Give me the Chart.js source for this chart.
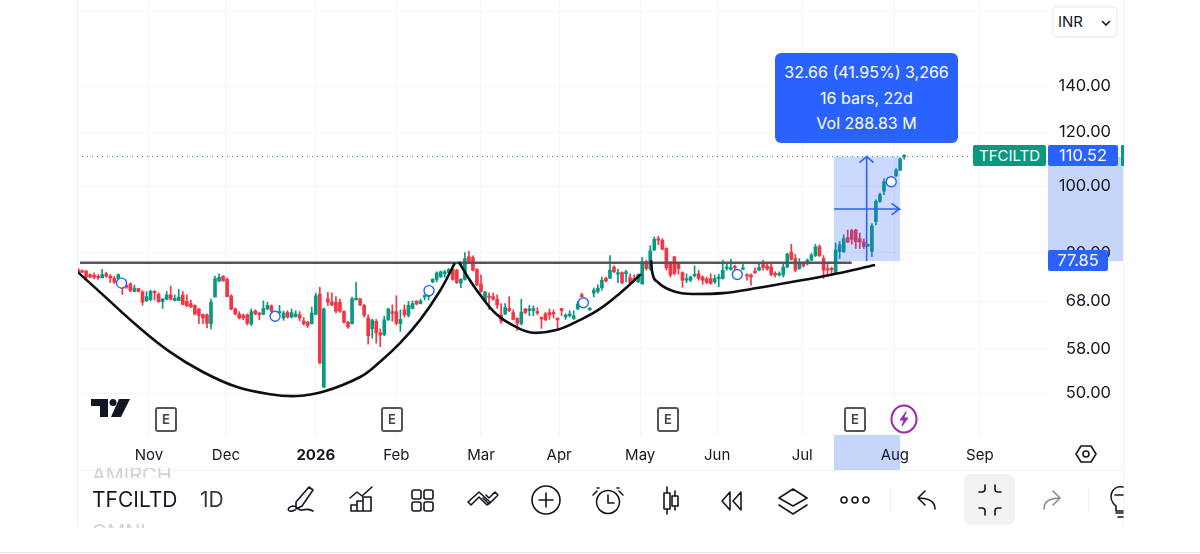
<!DOCTYPE html>
<html>
<head>
<meta charset="utf-8">
<title>TFCILTD 1D</title>
<script src="https://cdn.jsdelivr.net/npm/chart.js@4/dist/chart.umd.min.js"></script>
<style>
  html, body { margin: 0; padding: 0; background: #fff; width: 1200px; height: 554px; overflow: hidden; font-family: Inter, sans-serif; color: #131722; }
  canvas, svg.chrome { position: absolute; left: 0; top: 0; }
  .abs { position: absolute; white-space: nowrap; }
  .tag { color: #fff; font-size: 15px; line-height: 21px; height: 21px; text-align: center; border-radius: 2px; }
  .price { font-size: 16.5px; }
  .e { width: 22px; height: 25px; border: 2px solid #555; border-radius: 3px; box-sizing: border-box; top: 407px; background: #fff;
       font-size: 13px; font-weight: 600; line-height: 21px; text-align: center; color: #444; }
  .info { left: 775px; top: 53px; width: 183px; height: 90px; background: #2962ff; border-radius: 6px; color: #fff; font-size: 16px; line-height: 25.5px; text-align: center; padding-top: 7px; box-sizing: border-box; }
</style>
</head>
<body>
<canvas id="chart" width="1200" height="554"></canvas>

<svg class="chrome" width="1200" height="554" fill="none" stroke="#131722" stroke-width="1.6" stroke-linecap="round" stroke-linejoin="round">
  <line x1="77.5" y1="0" x2="77.5" y2="527" stroke="#f0f2f6" stroke-width="1"/>
  <line x1="1123.5" y1="0" x2="1123.5" y2="527" stroke="#f0f2f6" stroke-width="1"/>
  <line x1="77" y1="470.5" x2="1123" y2="470.5" stroke="#f0f2f6" stroke-width="1"/>
  <line x1="0" y1="552.5" x2="1200" y2="552.5" stroke="#e4e6ea" stroke-width="1"/>
  <line x1="890.5" y1="488" x2="890.5" y2="513" stroke="#f2f2f2" stroke-width="1"/>
  <line x1="1088.5" y1="488" x2="1088.5" y2="513" stroke="#f2f2f2" stroke-width="1"/>
  <!-- logo -->
  <g fill="#131722" stroke="none">
    <path d="M91 399h17v18h-8v-11h-9z"/><circle cx="113" cy="402.5" r="3.5"/><path d="M119 399h11l-9 18h-10z"/>
  </g>
  <!-- lightning marker -->
  <ellipse cx="904" cy="419" rx="12.5" ry="13.5" stroke="#9c27b0" stroke-width="2"/>
  <path d="M906 412l-6 8h4l-2 6 6-8h-4z" fill="#9c27b0" stroke="#9c27b0" stroke-width="1"/>
  <!-- settings hexagon -->
  <path d="M1081 446h10l5 8-5 8h-10l-5-8z"/><circle cx="1086" cy="454" r="3"/>
  <!-- toolbar icons -->
  <path d="M309 487l4 3-11 16-6 3 0-7zM295 510c-8 4-9-3-2-4 5 0 5 5 9 4 4-1 8-1 11 1"/>
  <path d="M351 505h6v6h-6zM357 501h6v10h-6zM363 497h8v14h-8zM350 498l7-6 5 4 10-9"/>
  <rect x="412" y="490" width="9" height="9" rx="2"/><rect x="424" y="490" width="9" height="9" rx="2"/>
  <rect x="412" y="502" width="9" height="9" rx="2"/><rect x="424" y="502" width="9" height="9" rx="2"/>
  <path d="M471 505l8-8 8 8 3-3-11-10-11 10zM483 498l6 6 9-9-3-3-6 6-3-3"/>
  <circle cx="546" cy="500" r="14"/><path d="M546 493v14M539 500h14"/>
  <circle cx="608" cy="502" r="11.5"/><path d="M608 495v8h6M597 491l-4 4M619 491l4 4M599 488h-2M617 488h2"/>
  <path d="M667 487v27M675 491v19"/><rect x="664" y="493" width="6" height="16" fill="#fff"/><rect x="672" y="496" width="6" height="10" fill="#fff"/>
  <path d="M730 492l-8 9 8 9zM741 492l-8 9 8 9z"/>
  <path d="M793 489l14 9-14 8-14-8zM779 505l14 9 14-9"/>
  <circle cx="844" cy="500" r="3"/><circle cx="855" cy="500" r="3"/><circle cx="866" cy="500" r="3"/>
  <path d="M935 509c0-7-5-11-17-11M925 491l-7 7 7 7"/>
  <rect x="964" y="474" width="51" height="51" rx="8" fill="#f2f2f2" stroke="none"/>
  <path d="M979 492h3a3 3 0 0 0 3-3v-4M1001 492h-3a3 3 0 0 1-3-3v-4M979 508h3a3 3 0 0 1 3 3v4M1001 508h-3a3 3 0 0 0-3 3v4"/>
  <path d="M1044 509c0-7 5-11 16-11M1053 491l7 7-7 7" stroke="#8a8a8a"/>
  <path d="M1123 487c-12-2-16 12-7 19v5h7M1116 513h7M1118 517h5M1115 495h8"/>
</svg>

<div class="abs" style="left:92px;top:468px;width:85px;height:10px;overflow:hidden;font-size:20px;line-height:24px;color:#d0d2d6;"><span style="position:relative;top:-5px;">AMIRCH</span></div>
<div class="abs" style="left:92px;top:487px;width:85px;font-size:21px;line-height:26px;overflow:hidden;-webkit-mask-image:linear-gradient(90deg,#000 82%,#bbb 100%);">TFCILTD</div>
<div class="abs" style="left:200px;top:487px;font-size:21px;line-height:26px;color:#333;">1D</div>
<div class="abs" style="left:92px;top:522px;width:85px;height:6px;overflow:hidden;font-size:20px;line-height:24px;color:#d0d2d6;"><span style="position:relative;top:-2px;">OMNI</span></div>

<div class="abs e" style="left:155px;">E</div>
<div class="abs e" style="left:381px;">E</div>
<div class="abs e" style="left:657px;">E</div>
<div class="abs e" style="left:844px;">E</div>

<div class="abs" style="left:1052px;top:6px;width:66px;height:32px;box-sizing:border-box;border:2px solid #f0f2f6;border-radius:5px;background:#fff;font-size:15px;line-height:28px;padding-left:4px;">INR<svg width="10" height="6" style="position:absolute;left:47px;top:12px;" fill="none" stroke="#131722" stroke-width="1.6"><path d="M1 1l4 4 4-4"/></svg></div>

<div class="abs info">
  <div>32.66 (41.95%) 3,266</div>
  <div>16 bars, 22d</div>
  <div>Vol 288.83 M</div>
</div>

<div class="abs tag" style="left:973px;top:145px;width:73px;background:#089981;">TFCILTD</div>
<div class="abs tag price" style="left:1048px;top:145px;width:70px;background:#2962ff;">110.52</div>
<div class="abs tag" style="left:1121px;top:145px;width:3px;background:#089981;border-radius:1px 0 0 1px;"></div>
<div class="abs tag price" style="left:1048px;top:250px;width:60px;background:#2962ff;">77.85</div>

<script>
// daily candles
const opens = [
  75.7,75.3,75.3,74.4,74.2,74.0,73.6,74.6,74.0,73.5,
  73.4,71.2,71.8,72.1,70.3,71.0,70.2,68.1,68.4,70.3,
  69.6,67.9,68.5,69.5,68.2,68.2,69.5,68.0,67.5,67.1,
  66.3,65.0,65.0,63.1,69.0,72.8,74.0,73.2,69.3,66.3,
  65.2,64.9,65.0,63.0,65.9,65.4,65.1,66.3,67.0,65.4,
  65.4,64.3,65.5,64.5,64.6,65.0,63.7,63.4,63.1,65.1,
  69.7,51.0,68.6,67.8,67.8,67.8,65.8,63.4,63.1,68.4,
  68.6,67.1,64.3,62.0,63.6,61.2,60.8,63.9,65.7,65.7,
  63.1,66.1,64.9,66.4,68.1,67.5,69.0,69.1,72.6,73.2,
  73.8,74.6,74.9,75.7,75.5,72.3,73.2,79.0,78.8,75.7,
  72.1,68.1,69.1,69.1,68.5,65.0,65.2,66.4,65.5,64.3,
  63.1,66.3,65.9,65.9,65.7,64.5,65.2,65.5,65.5,64.3,
  66.4,64.5,64.8,64.2,66.3,69.5,67.6,66.1,69.9,70.3,
  71.2,73.5,73.5,76.3,74.5,74.9,74.6,73.6,73.4,72.6,
  72.1,77.7,75.8,80.8,83.9,83.5,81.2,77.5,79.0,77.2,
  74.9,73.0,73.0,74.1,74.6,73.8,73.3,73.4,72.6,73.4,
  73.4,75.9,75.7,76.5,74.8,75.7,74.3,74.3,75.2,75.5,
  77.5,76.6,76.3,74.6,74.3,74.3,76.3,80.2,78.5,75.9,
  77.5,77.1,78.1,79.3,81.7,78.5,75.9,75.9,74.9,80.4,
  80.4,84.2,86.2,86.4,83.9,83.0,81.9,80.4,88.9,95.1,
  98.4,101.7,101.3,103.6,105.6,110.4
];
const highs = [
  75.9,75.6,75.4,74.6,74.8,74.4,75.7,75.0,74.4,74.0,
  74.6,72.0,72.3,72.4,71.8,71.1,70.5,70.3,70.6,70.5,
  70.0,68.6,70.3,71.6,69.5,70.8,70.3,69.5,68.3,67.2,
  66.4,65.2,65.2,68.5,74.0,74.6,74.1,73.6,69.5,66.5,
  65.7,65.2,65.2,66.3,66.1,65.5,68.1,67.8,67.2,65.8,
  67.1,65.8,65.9,66.3,65.9,65.7,64.4,63.6,66.7,69.9,
  71.3,66.5,70.1,70.0,69.1,68.5,65.9,63.6,69.0,72.5,
  68.7,67.3,65.0,64.0,64.0,62.0,64.7,66.4,67.2,69.3,
  66.1,67.2,68.0,68.1,68.1,68.5,69.5,69.5,73.4,75.1,
  75.3,75.5,75.9,75.8,75.7,73.4,80.1,80.4,79.2,75.9,
  74.3,70.3,70.0,69.9,69.5,67.5,67.5,69.1,66.1,64.3,
  68.5,66.4,67.1,67.0,66.6,64.5,65.6,66.3,66.1,64.3,
  66.4,65.2,65.9,65.9,68.0,69.9,68.0,66.6,71.1,71.9,
  73.8,73.8,79.3,76.6,75.7,75.1,75.5,74.6,74.3,74.6,
  78.8,78.1,82.0,84.4,84.6,83.9,81.4,77.7,79.0,77.4,
  75.1,74.6,74.0,76.6,75.5,74.1,73.8,74.6,74.3,74.5,
  78.1,77.4,78.3,76.8,75.2,77.0,74.6,74.6,76.1,77.0,
  78.1,77.5,77.0,75.1,75.1,77.2,79.9,82.4,79.6,78.5,
  77.7,78.4,79.9,82.4,82.2,79.3,77.2,76.3,82.7,83.1,
  85.0,86.4,86.6,86.6,85.5,83.9,82.4,88.2,95.6,97.8,
  102.6,103.0,102.6,106.2,110.1,111.3
];
const lows = [
  74.7,74.9,73.0,73.6,73.3,73.2,73.6,73.7,72.4,72.2,
  73.3,69.6,71.0,70.2,70.2,70.2,67.1,68.0,68.1,68.3,
  67.8,66.4,68.3,68.3,68.1,68.2,67.2,66.8,66.6,65.0,
  63.1,63.1,62.2,62.0,69.0,72.6,72.8,69.1,66.1,65.0,
  64.1,63.9,62.8,62.7,65.0,63.9,65.0,66.1,65.6,64.6,
  65.4,63.8,64.3,64.3,64.5,63.7,62.8,62.3,63.0,65.0,
  55.2,50.9,67.0,67.0,65.4,65.5,63.2,62.1,63.0,68.3,
  67.0,64.5,58.9,60.1,59.1,58.4,60.6,63.8,63.6,62.8,
  61.5,64.5,64.5,66.3,67.2,67.4,68.3,68.3,72.4,72.6,
  73.7,73.7,74.7,73.0,72.2,71.2,73.0,77.3,75.3,71.6,
  70.1,67.9,66.2,68.3,66.4,63.2,65.0,65.7,63.9,61.7,
  62.8,65.2,64.8,64.8,65.0,62.1,63.7,64.0,64.3,62.2,
  64.8,64.0,64.5,64.0,66.1,69.0,67.2,66.0,69.0,69.9,
  70.6,72.6,73.4,74.9,72.4,72.1,72.6,72.2,72.6,72.4,
  72.0,75.5,75.5,80.6,82.2,80.8,75.5,73.8,74.3,74.5,
  71.3,72.4,72.6,73.8,73.0,72.0,72.2,72.0,72.2,71.4,
  73.3,75.5,75.5,75.5,74.0,75.6,73.0,71.8,74.6,75.3,
  75.5,75.5,74.1,73.8,74.0,73.8,76.1,78.1,75.1,75.7,
  76.3,76.8,77.9,79.0,79.0,73.4,74.6,74.6,74.6,78.5,
  80.1,82.8,82.4,81.2,81.2,81.2,81.7,79.0,87.9,94.8,
  97.3,101.3,100.6,103.4,105.4,109.6
];
const closes = [
  75.1,75.0,73.7,73.8,73.7,73.6,74.4,74.0,73.6,72.5,
  74.4,71.0,71.3,70.5,71.1,70.3,67.8,69.1,70.3,70.0,
  67.9,68.6,69.5,68.5,68.7,69.0,67.3,67.0,66.8,65.2,
  64.8,64.3,63.2,67.8,73.4,73.7,72.8,69.1,66.3,65.2,
  64.3,64.3,63.2,65.7,65.2,65.0,66.4,67.1,65.8,65.0,
  65.7,65.4,64.5,65.5,65.2,64.3,63.1,62.7,65.4,69.3,
  55.3,66.3,67.8,67.2,65.8,65.8,63.4,62.4,68.6,68.6,
  67.2,64.9,60.6,63.9,61.2,60.7,63.9,66.3,65.3,63.2,
  64.0,65.0,67.1,67.5,67.4,68.1,69.3,69.3,73.2,74.8,
  75.1,75.1,75.7,73.2,72.4,73.2,78.5,77.4,75.5,71.9,
  70.3,70.2,68.9,68.5,67.2,63.6,66.6,65.9,64.0,63.2,
  65.6,65.5,66.3,66.4,65.4,64.1,63.9,65.0,65.2,63.9,
  65.9,65.0,65.2,64.8,67.4,69.1,67.9,66.4,70.6,71.1,
  73.0,72.8,75.5,75.1,74.7,72.4,75.1,72.4,73.0,74.3,
  77.7,75.9,80.6,83.8,83.5,81.0,76.1,74.3,74.7,75.9,
  73.0,73.4,73.8,74.4,73.4,73.0,72.4,72.2,73.4,73.8,
  75.5,76.3,76.1,76.1,74.3,76.1,74.0,73.8,74.9,76.2,
  76.2,75.8,74.4,74.3,74.4,76.3,79.7,78.3,75.5,77.5,
  76.6,78.1,79.4,81.7,79.3,75.5,75.5,75.6,80.8,82.2,
  83.9,83.0,83.7,83.0,83.0,81.7,82.3,87.6,95.1,97.3,
  101.6,102.6,102.0,105.6,109.7,110.52
];

// axes
const monthTicks = [17.6, 36.7, 59, 79, 100, 119.4, 139.5, 158.6, 179.7, 202.7, 223.8];
const monthLabels = ['Nov', 'Dec', '2026', 'Feb', 'Mar', 'Apr', 'May', 'Jun', 'Jul', 'Aug', 'Sep'];
const priceTicks = [180, 140, 120, 100, 80, 68, 58, 50];

// measure tool and price line
const lastPrice = 110.52;
const rangeLow = 77.85;
const rangeStart = 187.6;
const rangeEnd = 204;

// hand drawn cup and handle
const resistanceLevel = 77.4;
const cupLeft = [[-0.25,75.2],[6.2,69.5],[14.6,62.7],[22.8,57.4],[31,53.65],[39.5,51.0],[47.6,49.8],[54.3,49.5],[60.8,50.2],[70,52.76],[74.9,55.5],[79.9,59.1],[84.9,63.9],[89.8,70.4],[93.5,77.3]];
const cupRight = [[94.5,77.6],[96.8,73.7],[99.8,69.5],[104,65.0],[108.9,62.3],[112.9,61.2],[118.9,61.8],[124.6,63.9],[129.5,66.3],[134.5,69.9],[139.7,74.5]];
const handle = [[142.2,78.1],[142.4,75.5],[143.9,72.5],[147.6,70.4],[152.6,69.7],[160,69.9],[168.5,71.1],[176.7,72.5],[186.6,74.3],[197.8,76.8]];
const arrowUp = [[195.7,77.85],[195.7,110.52],[193.9,108.3],[195.7,110.52],[197.4,108.3]];
const arrowRight = [[187.6,92.7],[203.8,92.7],[201.9,94.5],[203.8,92.7],[201.9,90.9]];
const dividendMarks = [[10.8,72.3],[48.9,64.7],[87.1,70.5],[125.4,67.7],[163.6,74.4],[201.8,101.6]];

const UP = '#089981';
const DOWN = '#f23645';
const BLUE = '#2962ff';
const GRID = '#f3f5f9';
const barColors = closes.map((c, i) => (c >= opens[i] ? UP : DOWN));
const toPoints = pairs => pairs.map(p => ({ x: p[0], y: p[1] }));

function curve(pairs, smooth) {
  return { type: 'line', data: toPoints(pairs), borderColor: '#0e0f14', borderWidth: 2.6, pointRadius: 0, ...smooth, order: 2 };
}

const rangeOverlay = {
  id: 'rangeOverlay',
  beforeDraw(chart) {
    // strips on the two axes sit under the tick labels
    const { ctx, scales: { x, y }, chartArea } = chart;
    ctx.save();
    ctx.fillStyle = '#c6d6fb';
    ctx.fillRect(chartArea.right, y.getPixelForValue(lastPrice), 75, y.getPixelForValue(rangeLow) - y.getPixelForValue(lastPrice));
    ctx.fillRect(x.getPixelForValue(rangeStart), chartArea.bottom, x.getPixelForValue(rangeEnd) - x.getPixelForValue(rangeStart), 35);
    ctx.restore();
  },
  beforeDatasetDraw(chart, args) {
    if (chart.data.datasets[args.index].label !== 'arrowUp') return;
    const { ctx, scales: { x, y } } = chart;
    ctx.save();
    ctx.fillStyle = 'rgba(41, 98, 255, 0.24)';
    ctx.fillRect(x.getPixelForValue(rangeStart), y.getPixelForValue(lastPrice),
      x.getPixelForValue(rangeEnd) - x.getPixelForValue(rangeStart), y.getPixelForValue(rangeLow) - y.getPixelForValue(lastPrice));
    ctx.restore();
  }
};

new Chart(document.getElementById('chart'), {
  type: 'bar',
  data: {
    datasets: [
      { label: 'wick', data: opens.map((_, i) => ({ x: i, y: [lows[i], highs[i]] })), backgroundColor: barColors, barThickness: 1, grouped: false, order: 7 },
      { label: 'body', data: opens.map((o, i) => ({ x: i, y: [Math.min(o, closes[i]), Math.max(o, closes[i])] })), backgroundColor: barColors, barThickness: 3, grouped: false, minBarLength: 1.5, order: 6 },
      { label: 'arrowUp', type: 'line', data: toPoints(arrowUp), borderColor: BLUE, borderWidth: 1.6, pointRadius: 0, order: 4 },
      { label: 'arrowRight', type: 'line', data: toPoints(arrowRight), borderColor: BLUE, borderWidth: 1.6, pointRadius: 0, order: 4 },
      { label: 'resistance', type: 'line', data: [{ x: 0.5, y: resistanceLevel }, { x: 192, y: resistanceLevel }], borderColor: '#55565a', borderWidth: 2.6, pointRadius: 0, order: 3 },
      { label: 'price', type: 'line', data: [{ x: -0.25, y: lastPrice }, { x: 222, y: lastPrice }], borderColor: UP, borderWidth: 1, borderDash: [1, 4], pointRadius: 0, order: 5 },
      curve(cupLeft, { tension: 0.4 }),
      curve(cupRight, { tension: 0.4 }),
      curve(handle, { cubicInterpolationMode: 'monotone' }),
      { label: 'marks', type: 'line', data: toPoints(dividendMarks), showLine: false, pointRadius: 5, pointBorderColor: BLUE, pointBorderWidth: 1.4, pointBackgroundColor: '#fff', order: 1 }
    ]
  },
  options: {
    responsive: false,
    animation: false,
    devicePixelRatio: 1,
    layout: { autoPadding: false, padding: { left: 77, right: 89, top: 0, bottom: 84 } },
    plugins: { legend: { display: false }, tooltip: { enabled: false } },
    scales: {
      x: {
        type: 'linear',
        offset: false,
        min: -0.25,
        max: 240.7,
        grid: { color: GRID, offset: false, drawTicks: false },
        border: { display: false },
        afterBuildTicks: scale => { scale.ticks = monthTicks.map(v => ({ value: v })); },
        afterFit: scale => { scale.height = 35; scale.paddingLeft = 0; scale.paddingRight = 0; },
        ticks: {
          autoSkip: false,
          maxRotation: 0,
          padding: 11,
          color: '#131722',
          font: c => ({ family: 'Inter', size: 15, weight: monthLabels[c.index] === '2026' ? 'bold' : 'normal' }),
          callback: (v, i) => monthLabels[i]
        }
      },
      y: {
        type: 'logarithmic',
        position: 'right',
        beginAtZero: false,
        min: 43.43,
        max: 186.9,
        grid: { color: GRID, drawTicks: false },
        border: { display: false },
        afterBuildTicks: scale => { scale.ticks = priceTicks.map(v => ({ value: v })); },
        afterFit: scale => { scale.width = 63; scale.paddingTop = 0; scale.paddingBottom = 0; },
        ticks: {
          autoSkip: false,
          padding: 12,
          crossAlign: 'far',
          color: '#131722',
          font: { family: 'Inter', size: 16.5 },
          callback: v => (v === 180 ? '' : v.toFixed(2))
        }
      }
    }
  },
  plugins: [rangeOverlay]
});
</script>
</body>
</html>
